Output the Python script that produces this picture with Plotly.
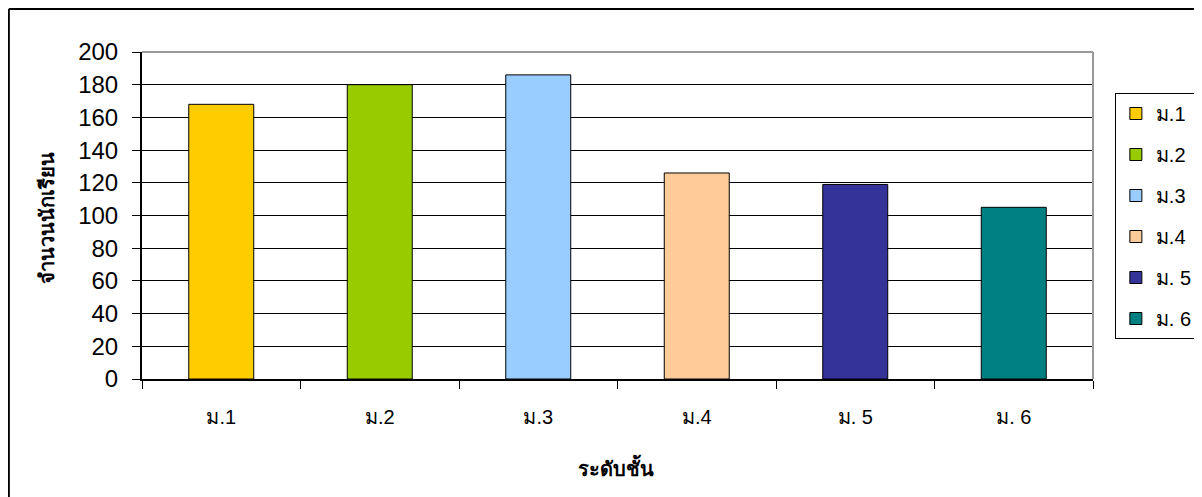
import plotly.graph_objects as go

categories = ["ม.1", "ม.2", "ม.3", "ม.4", "ม. 5", "ม. 6"]
values = [168, 180, 186, 126, 119, 105]
colors = ["#FFCC00", "#99CC00", "#99CCFF", "#FFCC99", "#333399", "#008080"]
y_ticks = list(range(0, 201, 20))

FONT = "Liberation Sans, Arial, Noto Sans, DejaVu Sans, sans-serif"

OFF = 8  # page body margin offset
W, H = 1202, 497
ML = 142 - OFF
MT = 52 - OFF
MB = H - (379 - OFF)
MR = W - (1099 - OFF)
PW = W - ML - MR
PH = H - MT - MB

def px_x(x):
    return (x - OFF - ML) / PW

def px_y(y):
    return (H - MB - (y - OFF)) / PH

fig = go.Figure()
for cat, val, col in zip(categories, values, colors):
    fig.add_trace(go.Bar(
        x=[cat], y=[val], name=cat, width=0.41,
        marker=dict(color=col, line=dict(color="black", width=1)),
        legendgroup=cat,
    ))

fig.update_layout(
    width=W, height=H,
    margin=dict(l=ML, r=MR, t=MT, b=MB),
    paper_bgcolor="white", plot_bgcolor="white",
    barmode="overlay",
    font=dict(family=FONT, size=20, color="black"),
    showlegend=True,
    legend=dict(
        x=px_x(1121), y=px_y(93), xanchor="left", yanchor="top",
        bgcolor="white", bordercolor="black", borderwidth=1,
        font=dict(family=FONT, size=20, color="black"),
        traceorder="grouped", tracegroupgap=12,
        itemwidth=30,
    ),
    xaxis=dict(
        type="category", categoryorder="array", categoryarray=categories,
        showline=True, linecolor="black", linewidth=2,
        ticks="outside", ticklen=8, tickcolor="black", tickwidth=1,
        tickson="boundaries", showgrid=False,
        tickfont=dict(family=FONT, size=20),
        ticklabelstandoff=19,
        range=[-0.5, len(categories) - 0.5],
    ),
    yaxis=dict(
        range=[0, 200], tickvals=y_ticks,
        showline=True, linecolor="black", linewidth=2,
        ticks="outside", ticklen=8, tickcolor="black", tickwidth=1,
        showgrid=True, gridcolor="black", gridwidth=1,
        zeroline=False,
        tickfont=dict(family=FONT, size=24),
        ticklabelstandoff=9,
    ),
    annotations=[
        dict(text="<b>ระดับชั้น</b>", xref="paper", yref="paper",
             x=px_x(619), y=px_y(467), xanchor="center", yanchor="middle",
             showarrow=False, font=dict(family=FONT, size=20)),
        dict(text="<b>จำนวนนักเรียน</b>", xref="paper", yref="paper",
             x=px_x(46), y=px_y(218), xanchor="center", yanchor="middle",
             showarrow=False, textangle=-90,
             font=dict(family=FONT, size=20)),
    ],
    shapes=[
        dict(type="line", xref="paper", yref="paper", x0=0, x1=1, y0=1, y1=1,
             line=dict(color="#999999", width=2), layer="above"),
        dict(type="line", xref="paper", yref="paper", x0=1, x1=1, y0=0, y1=1,
             line=dict(color="#999999", width=2), layer="above"),
        dict(type="line", xref="paper", yref="paper",
             x0=px_x(8), x1=px_x(1215), y0=px_y(9), y1=px_y(9),
             line=dict(color="black", width=2)),
        dict(type="line", xref="paper", yref="paper",
             x0=px_x(8), x1=px_x(8), y0=px_y(9), y1=px_y(510),
             line=dict(color="black", width=2)),
    ],
)

fig.write_html("out.html")
